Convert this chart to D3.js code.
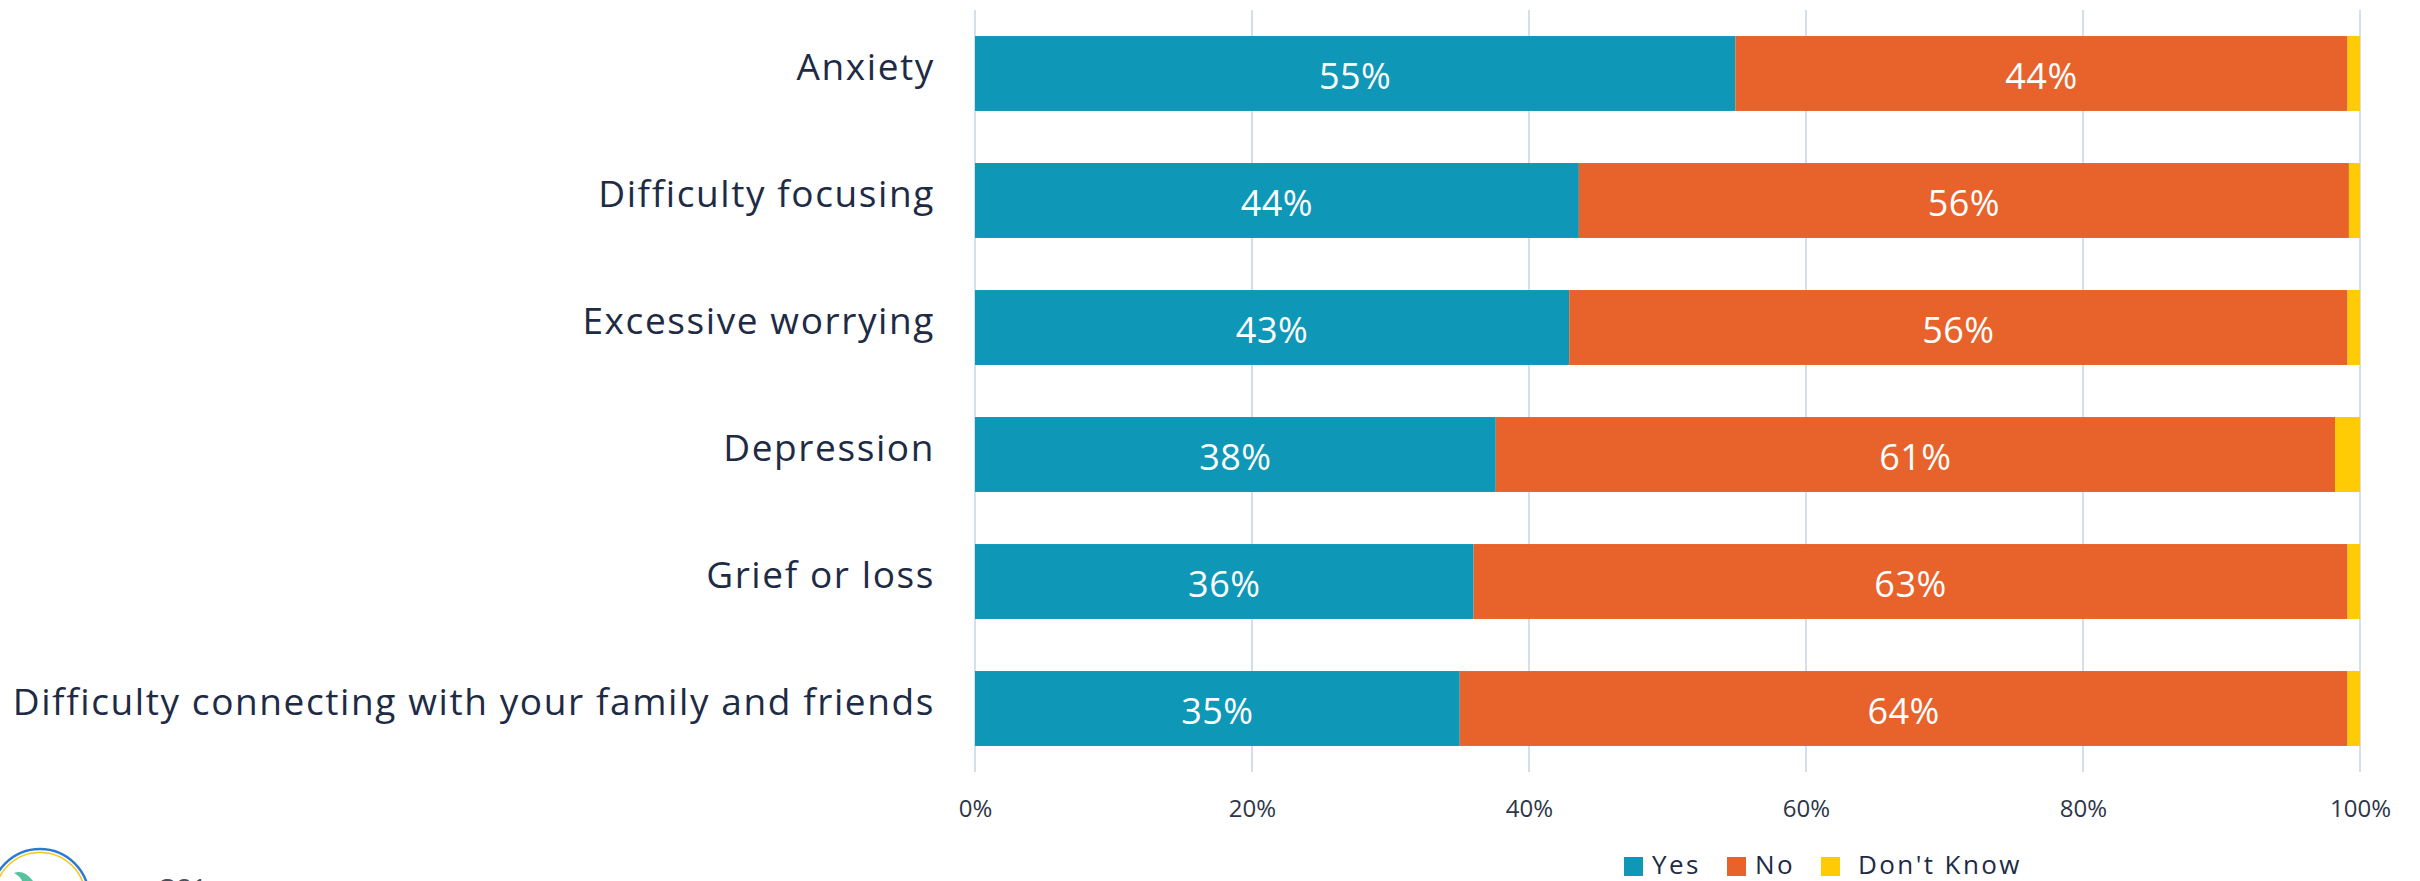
<!DOCTYPE html>
<html>
<head>
<meta charset="utf-8">
<script src="https://cdn.jsdelivr.net/npm/d3@7"></script>
<style>
  html, body { margin: 0; padding: 0; background: #fff; overflow: hidden; }
  svg { display: block; }
  text { font-family: "Open Sans", "DejaVu Sans", sans-serif; }
</style>
</head>
<body>
<svg id="chart" width="2420" height="881"></svg>
<script>
const categories = [
  "Anxiety",
  "Difficulty focusing",
  "Excessive worrying",
  "Depression",
  "Grief or loss",
  "Difficulty connecting with your family and friends"
];
const seriesNames = ["Yes", "No", "Don't Know"];
const yesValues = [54.9, 43.6, 42.9, 37.6, 36.0, 35.0];
const noValues = [44.2, 55.6, 56.2, 60.6, 63.1, 64.1];
const dkValues = [0.9, 0.8, 0.9, 1.8, 0.9, 0.9];
const xTicks = [0, 20, 40, 60, 80, 100];
const colors = ["#0E97B6", "#E8632C", "#FFCB05"];

const svg = d3.select("#chart");
const textColor = "#1E2B45";

const x = d3.scaleLinear().domain([0, 100]).range([975, 2360]);
const y = d3.scaleBand().domain(categories).range([10, 772]).paddingInner(0.41).paddingOuter(0.205);

// gridlines
svg.append("g").selectAll("line").data(xTicks).join("line")
  .attr("x1", d => x(d)).attr("x2", d => x(d))
  .attr("y1", 10).attr("y2", 772)
  .attr("stroke", "#D6DEEA").attr("stroke-width", 2);

// axis tick labels
const xAxis = d3.axisBottom(x).tickValues(xTicks).tickFormat(d => d + "%").tickSize(0).tickPadding(0);
const ax = svg.append("g").attr("transform", "translate(0,809)").call(xAxis);
ax.select(".domain").remove();
ax.selectAll("text")
  .attr("dy", "0.35em")
  .attr("fill", "#2E3648")
  .style("font-size", "24px")
  .style("font-family", "\"Open Sans\", sans-serif");

// stacked data
const rows = categories.map((c, i) => ({ cat: c, "Yes": yesValues[i], "No": noValues[i], "Don't Know": dkValues[i] }));
const stack = d3.stack().keys(seriesNames)(rows);

const layers = svg.append("g").selectAll("g").data(stack).join("g")
  .attr("fill", (d, i) => colors[i]);

layers.selectAll("rect").data(d => d).join("rect")
  .attr("x", d => x(d[0]))
  .attr("width", d => x(d[1]) - x(d[0]))
  .attr("y", d => y(d.data.cat))
  .attr("height", y.bandwidth());

// value labels for Yes and No
const fmt = d3.format(".0f");
stack.slice(0, 2).forEach(layer => {
  svg.append("g").selectAll("text").data(layer).join("text")
    .attr("x", d => (x(d[0]) + x(d[1])) / 2)
    .attr("y", d => y(d.data.cat) + y.bandwidth() / 2 + 2)
    .attr("text-anchor", "middle")
    .attr("dominant-baseline", "central")
    .attr("fill", "#fff")
    .style("font-size", "36px")
    .style("letter-spacing", "0.5px")
    .text(d => fmt(d[1] - d[0]) + "%");
});

// category labels
const yAxis = d3.axisLeft(y).tickSize(0).tickPadding(0);
const ay = svg.append("g").attr("transform", "translate(935,-6)").call(yAxis);
ay.select(".domain").remove();
ay.selectAll("text")
  .attr("dy", "0.35em")
  .attr("fill", textColor)
  .style("font-size", "37px")
  .style("letter-spacing", "1.6px")
  .style("font-family", "\"Open Sans\", sans-serif");

// legend
const legendX = [1624, 1727, 1821];
const legendTextX = [1652, 1755, 1858];
const lg = svg.append("g");
seriesNames.forEach((s, i) => {
  lg.append("rect").attr("x", legendX[i]).attr("y", 857).attr("width", 19).attr("height", 19).attr("fill", colors[i]);
  lg.append("text").attr("x", legendTextX[i]).attr("y", 874)
    .attr("fill", textColor).style("font-size", "26px").style("letter-spacing", "2.4px").text(s);
});

// logo (partially visible) and question number
const logo = svg.append("g");
logo.append("circle").attr("cx", 40).attr("cy", 898).attr("r", 49).attr("fill", "#fff")
  .attr("stroke", "#2C7BD0").attr("stroke-width", 2.5);
logo.append("circle").attr("cx", 40).attr("cy", 898).attr("r", 45.5).attr("fill", "none")
  .attr("stroke", "#F5C518").attr("stroke-width", 1.5);
logo.append("path").attr("d", "M14,873 Q24,869 33,881 L22,881 Q20,876 14,873 Z").attr("fill", "#55C39E");
svg.append("text").attr("x", 157).attr("y", 897).attr("fill", "#4A4F5A")
  .style("font-size", "26px").text("Q21");
</script>
</body>
</html>
